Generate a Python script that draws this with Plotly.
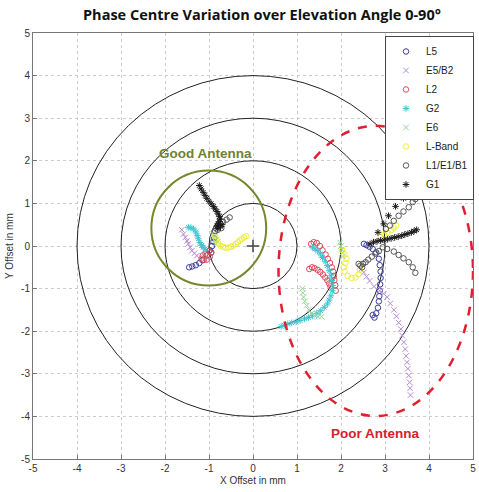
import plotly.graph_objects as go

# ---------------- data (mm) ----------------
L5_x = [-1.45, -1.38, -1.30, -1.22, -1.15, -1.05, -0.98, -0.93, -0.90, -0.88, -0.95,
        2.52, 2.58, 2.65, 2.72, 2.80, 2.86, 2.88, 2.90, 2.90, 2.89, 2.88, 2.87, 2.86, 2.84, 2.80, 2.76, 2.72]
L5_y = [-0.50, -0.48, -0.45, -0.40, -0.33, -0.22, -0.10, 0.00, 0.10, 0.18, -0.15,
        0.05, 0.02, -0.02, -0.07, -0.15, -0.30, -0.45, -0.60, -0.75, -0.90, -1.05, -1.18, -1.30, -1.45, -1.58, -1.68, -1.62]

E5B2_x = [-1.62, -1.58, -1.54, -1.50, -1.47, -1.43, -1.39, -1.33, -1.28,
          2.45, 2.52, 2.58, 2.65, 2.75, 2.88, 2.97, 3.05, 3.12, 3.20, 3.26, 3.31, 3.36, 3.39, 3.43, 3.46,
          3.48, 3.50, 3.52, 3.54, 3.56, 3.57, 3.58]
E5B2_y = [0.38, 0.28, 0.20, 0.12, 0.05, -0.03, -0.11, -0.17, -0.23,
          -0.55, -0.62, -0.72, -0.82, -0.95, -1.05, -1.12, -1.20, -1.35, -1.50, -1.65, -1.80, -1.95, -2.10, -2.26, -2.42,
          -2.58, -2.73, -2.88, -3.04, -3.20, -3.34, -3.50]

L2_x = [-1.17, -1.12, -1.05, -0.98, -0.95, -1.00, -1.08, -1.14,
        1.32, 1.38, 1.45, 1.52, 1.58, 1.65, 1.70, 1.75, 1.79, 1.82, 1.84, 1.85, 1.87, 1.88,
        1.28, 1.34, 1.40, 1.47, 1.53, 1.59, 1.64, 1.69, 1.73, 1.76]
L2_y = [-0.30, -0.33, -0.32, -0.25, -0.15, -0.12, -0.18, -0.22,
        0.05, 0.09, 0.07, 0.00, -0.10, -0.20, -0.30, -0.40, -0.50, -0.60, -0.70, -0.80, -0.92, -1.05,
        -0.54, -0.50, -0.52, -0.56, -0.61, -0.67, -0.74, -0.81, -0.88, -0.95]

G2_x = [-1.47, -1.41, -1.35, -1.30, -1.27, -1.24, -1.21, -1.17, -1.13, -1.09,
        1.35, 1.41, 1.47, 1.53, 1.58, 1.64, 1.69, 1.73, 1.77, 1.79, 1.81, 1.80, 1.77, 1.73, 1.69, 1.62,
        1.54, 1.45, 1.35, 1.26, 1.17, 1.07, 0.98, 0.88, 0.79, 0.71, 0.64]
G2_y = [0.44, 0.43, 0.40, 0.33, 0.25, 0.17, 0.08, 0.01, -0.03, -0.07,
        -0.03, -0.07, -0.11, -0.19, -0.27, -0.36, -0.46, -0.58, -0.70, -0.81, -0.93, -1.05, -1.17, -1.27, -1.36, -1.44,
        -1.52, -1.58, -1.64, -1.68, -1.71, -1.75, -1.78, -1.80, -1.83, -1.86, -1.89]

E6_x = [-0.90, -0.87, -0.84, -0.80, -0.85,
        1.98, 2.00, 2.02, 2.03, 2.04,
        1.12, 1.13, 1.15, 1.18, 1.22, 1.27, 1.33, 1.40, 1.48, 1.56]
E6_y = [0.28, 0.22, 0.15, 0.09, 0.05,
        0.08, 0.00, -0.08, -0.16, -0.25,
        -1.00, -1.10, -1.20, -1.30, -1.40, -1.50, -1.58, -1.63, -1.66, -1.66]

LBand_x = [-0.86, -0.83, -0.79, -0.74, -0.68, -0.62, -0.56, -0.50, -0.45, -0.39, -0.34, -0.30, -0.26, -0.20, -0.15,
           2.03, 2.08, 2.12, 2.10, 2.06, 2.08, 2.15, 2.24, 2.33, 2.40, 2.43,
           2.90, 2.98, 3.06, 3.14, 3.20, 3.25]
LBand_y = [0.24, 0.15, 0.07, 0.01, -0.02, -0.04, -0.04, -0.02, 0.01, 0.05, 0.09, 0.13, 0.16, 0.20, 0.23,
           -0.10, -0.20, -0.30, -0.40, -0.50, -0.60, -0.70, -0.75, -0.74, -0.66, -0.56,
           0.22, 0.27, 0.32, 0.37, 0.43, 0.48]

L1_x = [3.76, 3.69, 3.63, 3.54, 3.42, 3.31, 3.20, 3.11, 3.02,
        2.95, 3.05, 3.20, 3.31, 3.42, 3.54, 3.63, 3.69,
        2.44, 2.50, 2.56, 2.62, 2.70, 2.78, 2.86, 2.48, 2.40,
        -0.53, -0.60, -0.68, -0.74, -0.80, -0.84, -0.86, -0.80, -0.72]
L1_y = [1.17, 1.10, 1.03, 0.91, 0.81, 0.71, 0.59, 0.48, 0.40,
        -0.03, -0.07, -0.13, -0.21, -0.29, -0.38, -0.50, -0.63,
        -0.46, -0.42, -0.38, -0.32, -0.25, -0.18, -0.12, -0.50, -0.42,
        0.67, 0.62, 0.57, 0.52, 0.47, 0.41, 0.35, 0.38, 0.42]

G1_x = [-1.22, -1.18, -1.13, -1.09, -1.05, -1.00, -0.95, -0.90, -0.86, -0.82, -0.79, -0.76, -0.75, -0.77, -0.79,
        -0.82, -0.80, -0.74, -0.70,
        3.79, 3.61, 3.42, 3.24, 3.08, 2.97, 2.84,
        3.72, 3.66, 3.60, 3.52, 3.45, 3.38, 3.30, 3.22, 3.14, 3.06, 2.98, 2.90, 2.82, 2.74, 2.66]
G1_y = [1.42, 1.34, 1.26, 1.19, 1.12, 1.05, 0.99, 0.93, 0.87, 0.81, 0.75, 0.69, 0.63, 0.57, 0.52,
        0.47, 0.42, 0.45, 0.50,
        1.57, 1.32, 1.12, 0.93, 0.71, 0.52, 0.32,
        0.38, 0.35, 0.32, 0.29, 0.27, 0.24, 0.22, 0.20, 0.18, 0.16, 0.14, 0.13, 0.11, 0.09, 0.05]

ref_x = [0.0]
ref_y = [0.0]

ring_radii = [1, 2, 3, 4]
ticks = [-5, -4, -3, -2, -1, 0, 1, 2, 3, 4, 5]

# ---------------- figure ----------------
series = [
    ("L5", L5_x, L5_y, "circle-open", "#3c3c9c"),
    ("E5/B2", E5B2_x, E5B2_y, "x-thin-open", "#b58ad2"),
    ("L2", L2_x, L2_y, "circle-open", "#de4a5a"),
    ("G2", G2_x, G2_y, "asterisk-open", "#3cc6d0"),
    ("E6", E6_x, E6_y, "x-thin-open", "#8ed88e"),
    ("L-Band", LBand_x, LBand_y, "circle-open", "#eeee3a"),
    ("L1/E1/B1", L1_x, L1_y, "circle-open", "#555555"),
    ("G1", G1_x, G1_y, "asterisk-open", "#1a1a1a"),
]

fig = go.Figure()
for name, xs, ys, sym, col in series:
    fig.add_trace(go.Scatter(
        x=xs, y=ys, mode="markers", name=name,
        marker=dict(symbol=sym, size=5.5, color=col, line=dict(color=col, width=1)),
    ))

fig.add_trace(go.Scatter(
    x=ref_x, y=ref_y, mode="markers", showlegend=False,
    marker=dict(symbol="cross-thin-open", size=9, color="#444444", line=dict(color="#444444", width=1.5)),
))

shapes = []
for r in ring_radii:
    shapes.append(dict(type="circle", xref="x", yref="y", x0=-r, x1=r, y0=-r, y1=r,
                       line=dict(color="#222222", width=1), layer="between"))
# good-antenna circle
shapes.append(dict(type="circle", xref="x", yref="y", x0=-2.31, x1=0.30, y0=-0.93, y1=1.77,
                   line=dict(color="#74882c", width=2), layer="between"))
# poor-antenna dashed ellipse
shapes.append(dict(type="circle", xref="x", yref="y", x0=0.58, x1=5.0, y0=-3.99, y1=2.82,
                   line=dict(color="#e0202e", width=2.5, dash="dash"), layer="above"))

axis_common = dict(
    range=[-5, 5], tickvals=ticks, ticktext=[str(t) for t in ticks],
    showgrid=True, gridcolor="#cccccc", griddash="dot", gridwidth=1,
    zeroline=False, showline=True, linecolor="#777777", linewidth=1, mirror=True,
    ticks="inside", ticklen=4, tickcolor="#777777",
    tickfont=dict(family="Liberation Sans", size=10, color="#333333"),
    fixedrange=True,
)

fig.update_layout(
    width=479, height=492,
    margin=dict(l=33, r=3, t=33, b=33),
    paper_bgcolor="white", plot_bgcolor="white",
    xaxis=axis_common, yaxis=axis_common,
    shapes=shapes,
    showlegend=True,
    legend=dict(x=0.80, y=0.993, xanchor="left", yanchor="top",
                bgcolor="white", bordercolor="#444444", borderwidth=1,
                font=dict(family="Liberation Sans", size=10, color="#222222"),
                tracegroupgap=0, itemwidth=30),
    annotations=[
        dict(text="<b>Phase Centre Variation over Elevation Angle 0-90°</b>",
             xref="paper", yref="paper", x=0.52, y=1.0, yshift=19, showarrow=False,
             xanchor="center", yanchor="middle",
             font=dict(family="Open Sans", size=14.5, color="#111111")),
        dict(text="X Offset in mm", xref="paper", yref="paper", x=0.5, y=0, yshift=-21,
             showarrow=False, xanchor="center", yanchor="middle",
             font=dict(family="Liberation Sans", size=10, color="#333333")),
        dict(text="Y Offset in mm", xref="paper", yref="paper", x=0, y=0.5, xshift=-24,
             showarrow=False, xanchor="center", yanchor="middle", textangle=-90,
             font=dict(family="Liberation Sans", size=10, color="#333333")),
        dict(text="<b>Good Antenna</b>", xref="x", yref="y", x=-1.09, y=2.18, showarrow=False,
             font=dict(family="Liberation Sans", size=13.5, color="#6f8230")),
        dict(text="<b>Poor Antenna</b>", xref="x", yref="y", x=2.78, y=-4.41, showarrow=False,
             font=dict(family="Liberation Sans", size=13.5, color="#d42030")),
    ],
)

fig.write_html("out.html")
